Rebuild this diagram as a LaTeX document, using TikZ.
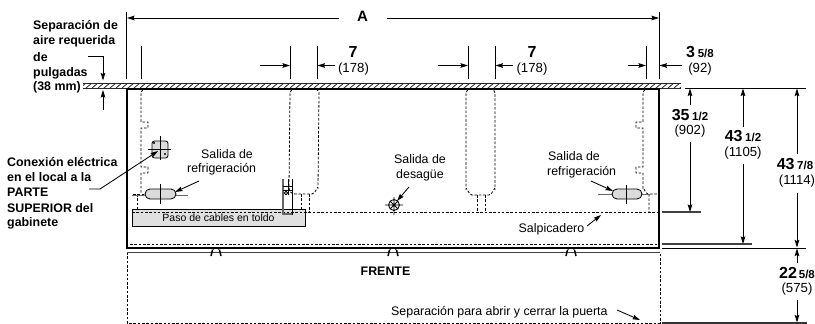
\documentclass[tikz,border=0pt]{standalone}
\usepackage{fontspec}
\setmainfont{Liberation Sans}
\usetikzlibrary{arrows.meta}
\newcommand{\fsz}[1]{\fontsize{#1}{#1}\selectfont}
\newcommand{\dimval}[2]{{\bfseries\fsz{16}#1\,\fsz{11.5}#2}}
\tikzset{
  x=1pt,y=-1pt,
  base/.style={line width=0.85pt,black},
  dim/.style={base,-{Stealth[length=7.5pt,width=4.6pt,inset=1pt]}},
  ext/.style={line width=0.95pt,black},
  dashl/.style={line width=0.8pt,black,dash pattern=on 2.6pt off 1.7pt},
  wall/.style={line width=2.5pt,black},
  tick/.style={line width=1.3pt,black!75},
  lbl/.style={inner sep=0pt,font=\fsz{12.4}},
  lblb/.style={inner sep=0pt,font=\bfseries\fsz{12.4},anchor=west},
  num/.style={inner sep=0pt},
  mm/.style={inner sep=0pt,font=\fsz{13.2}},
  part/.style={line width=0.85pt,fill=black!14,draw=black},
}
\begin{document}
\begin{tikzpicture}
\useasboundingbox (0,0) rectangle (815,324);
% hatched wall
\begin{scope}
\clip (83,83) rectangle (681,88);
\foreach \h in {80,86,...,690} \draw[line width=0.8pt,black!85] (\h,88) -- (\h+6,83);
\end{scope}
\draw[line width=0.7pt,black!85] (83,83) -- (681,83) (83,88) -- (681,88);
% drain line and dashed parts
\draw[dashl] (130,244) -- (657,244);
\draw[dashl] (143,90) to[out=180,in=-90] (141,93) -- (141,122) -- (148,122) -- (148,128) -- (141,128) -- (141,167) -- (148,167) -- (148,173) -- (141,173) -- (141,194);
\draw[dashl] (133,194) -- (146,194) (137,194) -- (137,212);
\draw[dashl] (645,90) to[out=180,in=-90] (643,93) -- (643,122) -- (636,122) -- (636,128) -- (643,128) -- (643,167) -- (636,167) -- (636,173) -- (643,173) -- (643,188) to[out=-90+180,in=180] (648,194) -- (658,194) (649,194) -- (649,212);
\draw[dashl] (292,90) to[out=180,in=-90] (290,93) -- (289,188) to[out=-90,in=180] (295,194) -- (312,194) to[out=0,in=90] (318,188) -- (319,93) to[out=-90,in=0] (317,90);
\draw[dashl] (301,194) -- (301,212) (309,194) -- (309,212);
\draw[dashl] (468,90) to[out=180,in=-90] (466,93) -- (466,189) to[out=90,in=180] (472,195) -- (489,195) to[out=0,in=90] (495,189) -- (495,93) to[out=-90,in=0] (493,90);
\draw[dashl] (477,195) -- (477,212) (485,195) -- (485,212);
% door clearance
\draw[dashl] (127,252) -- (127,323) -- (660,323) -- (660,252);
% cable way
\node[draw=black,fill=black!12,line width=0.8pt,inner sep=0pt,minimum width=173pt,minimum height=17pt,font=\fsz{10.5}] (paso) at (218.5,218) {Paso de cables en toldo};
\draw[dashl] (132,212) -- (658,212);
% cabinet
\draw[wall] (659,248) -- (659,89) -- (127,89) -- (127,248) -- cycle;
\draw[line width=0.8pt,black!75] (127,252) -- (660,252);
\draw[line width=2.8pt] (292,89) -- (317,89) (475,89) -- (494,89);
% hinges
\foreach \c in {216,393,571} {
  \draw[line width=1.5pt] (\c-5,256) -- (\c-3.5,250) (\c+3.5,250) -- (\c+5,256);
  \draw[line width=0.6pt] (\c-3.5,250) to[out=60,in=120] (\c+3.5,250);
}
% bracket
\draw[line width=1.3pt,black!60] (283,179) -- (283,214) -- (292,214);
\draw[line width=0.9pt] (292,179) -- (292,215) (288,179) -- (288,195);
\draw[line width=1pt] (283,186) -- (292,186) (283,190) -- (292,190);
\draw[line width=0.9pt] (286,193) circle (1.8);
% electrical box
\draw[part,rounded corners=2.5pt] (152,141) rectangle (168,158);
\draw[base] (148,149) -- (171,149) (160,136) -- (160,160);
\fill (154,143) circle (1.2) (165,154) circle (1.2);
% refrigerant outlets
\draw[line width=1pt,black!60] (132,195) -- (188,195);
\draw[part,rounded corners=5pt] (145,189) rectangle (176,199);
\draw[base] (160,184) -- (160,204);
\draw[line width=1pt,black!60] (598,194) -- (650,194);
\draw[part,rounded corners=5pt] (612,189) rectangle (642,199);
\draw[base] (626,185) -- (626,204);
% drain
\draw[base] (394,205) circle (5.5) (385,205) -- (403,205) (394,197) -- (394,215) (390,201) -- (398,209) (398,201) -- (390,209);
% extension lines
\draw[ext] (126.5,12) -- (126.5,79) (659,12) -- (659,79);
\draw[ext] (141,46) -- (141,79) (290,46) -- (290,79) (317,46) -- (317,79) (468,46) -- (468,79) (495,46) -- (495,79) (646,46) -- (646,79);
\draw[base] (685,88) -- (806,88);
\draw[tick] (662,212) -- (701,212) (662,244) -- (752,244);
\draw[base] (662,248) -- (806,248);
\draw[line width=1.3pt,black!80] (662,323) -- (807,323);
% dimension A
\node[num,font=\bfseries\fsz{15}] (A) at (362.5,16) {A};
\draw[dim] (339,18) -- (127,18);
\draw[dim] (387,18) -- (659,18);
% horizontal dimensions
\draw[dim] (260,65.5) -- (290,65.5);
\draw[dim] (335,65.5) -- (317.5,65.5);
\draw[dim] (438,65.5) -- (468,65.5);
\draw[dim] (513,65.5) -- (495.5,65.5);
\draw[dim] (628,65.5) -- (646,65.5);
\draw[dim] (682,65.5) -- (659.5,65.5);
\node[num,font=\bfseries\fsz{16}] (s1) at (353,52) {7};
\node[mm] (s1m) at (353.5,69) {(178)};
\node[num,font=\bfseries\fsz{16}] (s2) at (532,52) {7};
\node[mm] (s2m) at (532,69) {(178)};
\node[num] (d3) at (700,52) {\dimval{3}{5/8}};
\node[mm] (d3m) at (700,69) {(92)};
% vertical dimensions
\node[num] (d35) at (690,115) {\dimval{35}{1/2}};
\node[mm] (d35m) at (690,131) {(902)};
\draw[dim] (690,105) -- (690,88.5);
\draw[dim] (690,142) -- (690,212);
\node[num] (d43) at (743,136) {\dimval{43}{1/2}};
\node[mm] (d43m) at (743,153) {(1105)};
\draw[dim] (743,127) -- (743,88.5);
\draw[dim] (743,164) -- (743,244);
\node[num] (d47) at (795,164) {\dimval{43}{7/8}};
\node[mm] (d47m) at (797,181) {(1114)};
\draw[dim] (797,154) -- (797,88.5);
\draw[dim] (797,193) -- (797,247.5);
\node[num] (d22) at (797,273) {\bfseries\fsz{16}22\fsz{11.5}\,5/8};
\node[mm] (d22m) at (797,289) {(575)};
\draw[dim] (797,263) -- (797,248.5);
\draw[dim] (797,300) -- (797,322.5);
% clearance label
\node[lblb] (sep1) at (33,26) {Separación de};
\node[lblb] (sep2) at (33,41) {aire requerida};
\node[lblb] (sep3) at (33,57) {de};
\node[lblb] (sep4) at (33,73) {pulgadas};
\node[lblb] (sep5) at (33,87) {(38 mm)};
\draw[dim] (88,56.5) -- (103,56.5) -- (103,80.5);
\draw[dim] (103,110) -- (103,90);
% electrical label
\node[lblb] (c1) at (7,162) {Conexión eléctrica};
\node[lblb] (c2) at (7,177) {en el local a la};
\node[lblb] (c3) at (7,192) {PARTE};
\node[lblb] (c4) at (7,208) {SUPERIOR del};
\node[lblb] (c5) at (7,223) {gabinete};
\draw[dim] (89,189) -- (100,189) -- (158,151);
% plain labels
\node[lbl,anchor=west] (r1a) at (201,154) {Salida de};
\node[lbl,anchor=west] (r1b) at (187,169) {refrigeración};
\draw[dim] (199,181) -- (175,192);
\node[lbl,anchor=center] (da) at (420,159) {Salida de};
\node[lbl,anchor=center] (db) at (420,175) {desagüe};
\draw[dim] (409,187) -- (397,201);
\node[lbl,anchor=west] (r2a) at (548,156) {Salida de};
\node[lbl,anchor=west] (r2b) at (547,172) {refrigeración};
\draw[dim] (591,181) -- (613,191);
\node[lbl,anchor=west] (sal) at (518.5,229.5) {Salpicadero};
\draw[dim] (587,226) -- (601,215);
\node[inner sep=0pt,font=\bfseries\fsz{12.4}] (fr) at (385.5,271) {FRENTE};
\node[lbl,anchor=west] (puerta) at (391,312) {Separación para abrir y cerrar la puerta};
\draw[dim] (617,310) -- (640,320);
\end{tikzpicture}
\end{document}
